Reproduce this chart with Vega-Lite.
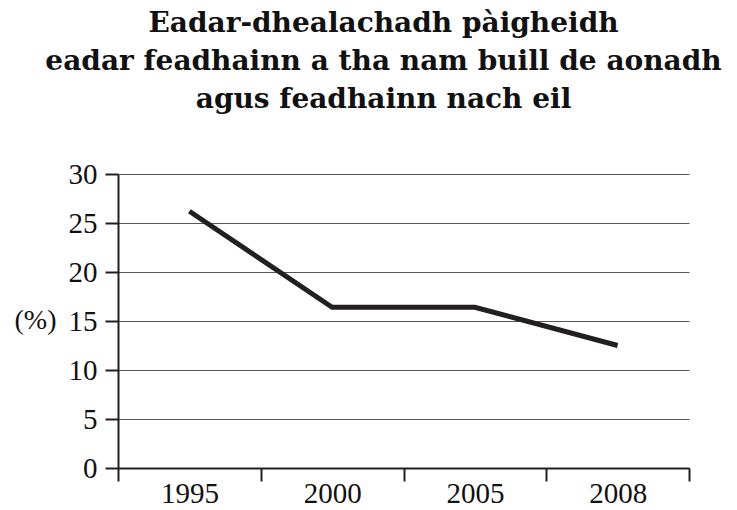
{
  "$schema": "https://vega.github.io/schema/vega-lite/v6.json",
  "width": 571,
  "height": 294,
  "autosize": "none",
  "padding": {"left": 118, "top": 174, "right": 48, "bottom": 42},
  "background": "white",
  "title": {
    "text": ["Eadar-dhealachadh pàigheidh", "eadar feadhainn a tha nam buill de aonadh", "agus feadhainn nach eil"],
    "font": "DejaVu Serif",
    "fontSize": 28,
    "fontWeight": "bold",
    "lineHeight": 38,
    "color": "#111111",
    "anchor": "middle",
    "frame": "group",
    "dx": -20,
    "offset": 46
  },
  "data": {
    "values": [
      {"year": "1995", "pct": 26.2},
      {"year": "2000", "pct": 16.4},
      {"year": "2005", "pct": 16.4},
      {"year": "2008", "pct": 12.5}
    ]
  },
  "mark": {"type": "line", "color": "#231f20", "strokeWidth": 5, "strokeCap": "butt"},
  "encoding": {
    "x": {
      "field": "year",
      "type": "ordinal",
      "scale": {"paddingInner": 0, "paddingOuter": 0},
      "axis": {
        "title": null,
        "labelAngle": 0,
        "labelFont": "Liberation Serif",
        "labelFontSize": 29,
        "labelColor": "#111111",
        "labelPadding": -2,
        "domainColor": "#231f20",
        "domainWidth": 2,
        "tickColor": "#231f20",
        "tickWidth": 2,
        "tickSize": 13,
        "tickBand": "extent",
        "grid": false
      }
    },
    "y": {
      "field": "pct",
      "type": "quantitative",
      "scale": {"domain": [0, 30], "nice": false},
      "axis": {
        "values": [0, 5, 10, 15, 20, 25, 30],
        "title": "(%)",
        "titleAngle": 0,
        "titleFont": "Liberation Serif",
        "titleFontSize": 28,
        "titleFontWeight": "normal",
        "titleColor": "#111111",
        "titleAlign": "center",
        "titleBaseline": "middle",
        "titleX": -83,
        "titleY": 146,
        "labelFont": "Liberation Serif",
        "labelFontSize": 29,
        "labelColor": "#111111",
        "labelPadding": 8,
        "domainColor": "#231f20",
        "domainWidth": 2,
        "tickColor": "#231f20",
        "tickWidth": 2,
        "tickSize": 13,
        "grid": true,
        "gridColor": "#555555",
        "gridWidth": 1
      }
    }
  },
  "config": {"view": {"stroke": null}}
}
